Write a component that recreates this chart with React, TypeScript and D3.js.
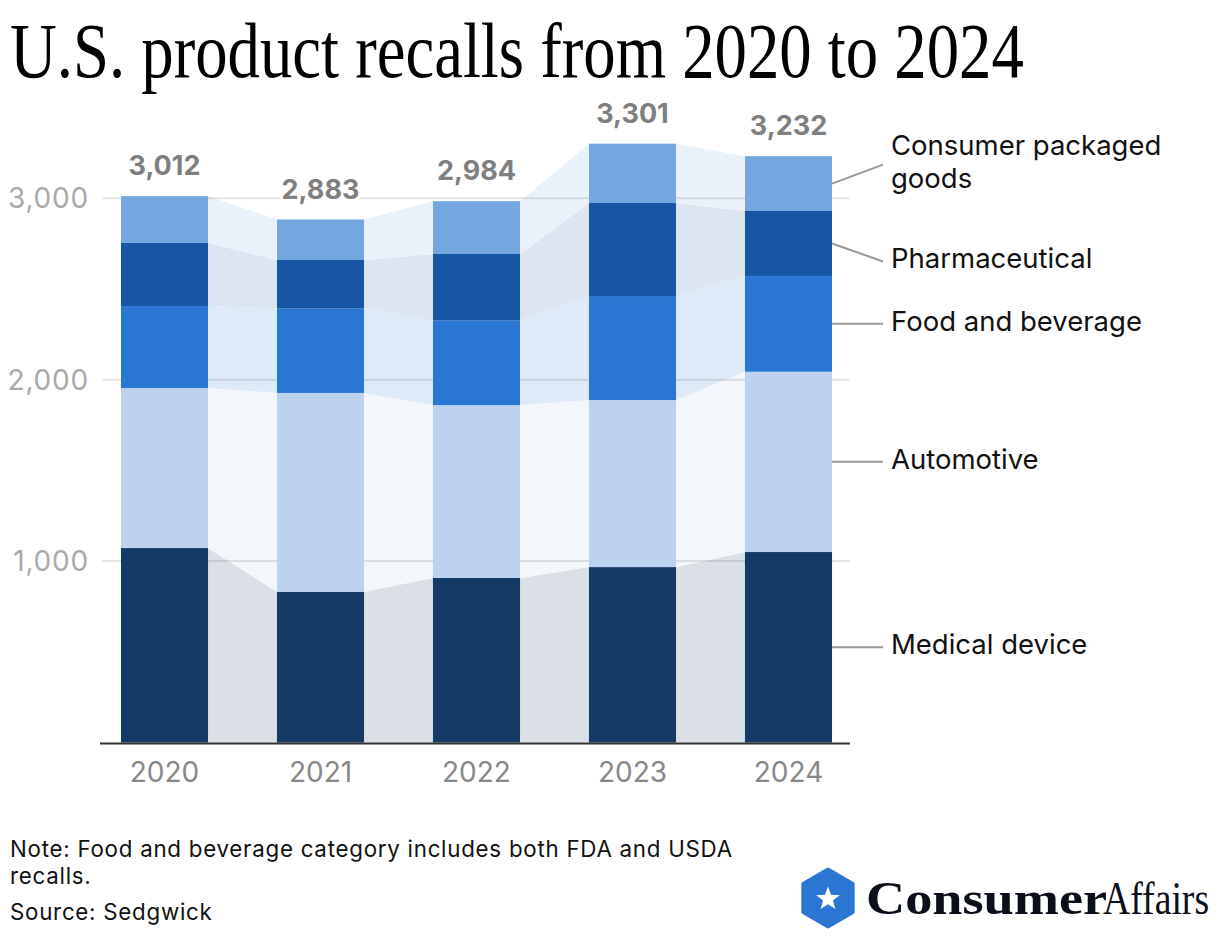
import React from "react";
import * as d3 from "d3";

const years = ["2020", "2021", "2022", "2023", "2024"];
const categories = ["Medical device", "Automotive", "Food and beverage", "Pharmaceutical", "Consumer packaged goods"];
const medical = [1072, 831, 907, 967, 1050];
const automotive = [882, 1096, 953, 921, 994];
const food = [452, 466, 467, 573, 528];
const pharma = [348, 267, 366, 513, 358];
const cpg = [258, 223, 291, 327, 302];
const totals = [3012, 2883, 2984, 3301, 3232];
const yTicks = [1000, 2000, 3000];

const barColors = ["#163a66", "#bcd2ee", "#2a77d3", "#1656a5", "#74a6e0"];
const areaColors = ["#dbe0e7", "#f3f7fc", "#deeaf8", "#dce6f1", "#e9f1fb"];
const labelNudge = [0, 0, 0, 18, -19];

const W = 1220;
const H = 938;
const FONT = "Inter, 'Noto Sans', sans-serif";

export default function App() {
  const series = [medical, automotive, food, pharma, cpg];
  const rows = years.map((y, i) => {
    const r: any = { year: y };
    categories.forEach((c, k) => (r[c] = series[k][i]));
    return r;
  });
  const stacked = d3.stack().keys(categories)(rows);

  const x = d3.scaleBand().domain(years).range([86.5, 866.5]).paddingInner(0.442).paddingOuter(0.221);
  const y = d3.scaleLinear().domain([0, 1000]).range([742.5, 561.1]);
  const bw = x.bandwidth();

  const area = d3
    .area<any>()
    .x((d) => d.x)
    .y0((d) => y(d.y0))
    .y1((d) => y(d.y1));

  const areaPts = (s: any) => {
    const pts: any[] = [];
    s.forEach((d: any, i: number) => {
      const x0 = x(years[i])!;
      pts.push({ x: x0, y0: d[0], y1: d[1] });
      pts.push({ x: x0 + bw, y0: d[0], y1: d[1] });
    });
    return pts;
  };

  const lastX = x(years[4])! + bw;
  const hexR = 30;
  const hcx = 828, hcy = 898;
  const hex = d3.range(6).map((k) => {
    const a = (Math.PI / 3) * k - Math.PI / 2;
    return [hcx + hexR * 0.93 * Math.cos(a), hcy + hexR * 0.93 * Math.sin(a)];
  });
  const star = d3.range(10).map((k) => {
    const a = (Math.PI / 5) * k - Math.PI / 2;
    const r = k % 2 === 0 ? 12.5 : 5.2;
    return [hcx + r * Math.cos(a), hcy + 1 + r * Math.sin(a)];
  });

  return (
    <svg width={W} height={H} style={{ position: "absolute", left: 0, top: 0, background: "#fff" }}>
      <text transform="translate(10,77) scale(0.83,1)" fontFamily="'Liberation Serif', serif" fontSize={78} fill="#000">
        U.S. product recalls from 2020 to 2024
      </text>

      {stacked.map((s, k) => (
        <path key={"a" + k} d={area(areaPts(s))!} fill={areaColors[k]} />
      ))}

      {yTicks.map((t) => (
        <g key={"g" + t}>
          <line x1={102} x2={850} y1={y(t)} y2={y(t)} stroke="#000" strokeOpacity={0.1} strokeWidth={2} />
          <text x={89} y={y(t)} dy="0.36em" textAnchor="end" fontFamily={FONT} fontSize={28} letterSpacing={0.8} fill="#aaaaaa">
            {d3.format(",")(t)}
          </text>
        </g>
      ))}

      {stacked.map((s, k) =>
        s.map((d: any, i: number) => (
          <rect key={"r" + k + i} x={x(years[i])} width={bw} y={y(d[1])} height={y(d[0]) - y(d[1])} fill={barColors[k]} />
        ))
      )}

      <line x1={100} x2={850} y1={743.5} y2={743.5} stroke="#333" strokeWidth={2} />

      {years.map((yr) => (
        <text key={"x" + yr} x={x(yr)! + bw / 2} y={782} textAnchor="middle" fontFamily={FONT} fontSize={28} fill="#888888">
          {yr}
        </text>
      ))}

      {totals.map((t, i) => (
        <text
          key={"t" + i}
          x={x(years[i])! + bw / 2}
          y={y(t) - 21}
          textAnchor="middle"
          fontFamily={FONT}
          fontWeight={700}
          fontSize={27}
          fill="#7f7f7f"
          stroke="#fff"
          strokeWidth={6}
          paintOrder="stroke"
          strokeLinejoin="round"
        >
          {d3.format(",")(t)}
        </text>
      ))}

      {stacked.map((s, k) => {
        const d: any = s[4];
        const mid = y((d[0] + d[1]) / 2);
        const ay = mid + labelNudge[k];
        const name = categories[k];
        const lines = name === "Consumer packaged goods" ? ["Consumer packaged", "goods"] : [name];
        const base = ay + 7 - ((lines.length - 1) * 33) / 2;
        return (
          <g key={"l" + k}>
            <line x1={lastX} y1={mid} x2={883} y2={ay} stroke="#999" strokeWidth={2} />
            {lines.map((ln, j) => (
              <text key={j} x={891} y={base + j * 33} fontFamily={FONT} fontSize={27.5} fill="#111">
                {ln}
              </text>
            ))}
          </g>
        );
      })}

      <text fontFamily={FONT} fontSize={22.3} letterSpacing={0.75} fill="#111">
        <tspan x={10} y={857}>Note: Food and beverage category includes both FDA and USDA</tspan>
        <tspan x={10} y={884}>recalls.</tspan>
        <tspan x={10} y={920}>Source: Sedgwick</tspan>
      </text>

      <polygon points={hex.map((p) => p.join(",")).join(" ")} fill="#2a76d2" stroke="#2a76d2" strokeWidth={5} strokeLinejoin="round" />
      <polygon points={star.map((p) => p.join(",")).join(" ")} fill="#fff" />
      <text transform="translate(866,914) scale(1.18,1)" fontFamily="'Liberation Serif', serif" fontSize={46} fontWeight={900} fill="#0a0f1a">
        Consumer
      </text>
      <text transform="translate(1103,914) scale(0.82,1)" fontFamily="'Liberation Serif', serif" fontSize={46} fill="#0a0f1a">
        Affairs
      </text>
    </svg>
  );
}
